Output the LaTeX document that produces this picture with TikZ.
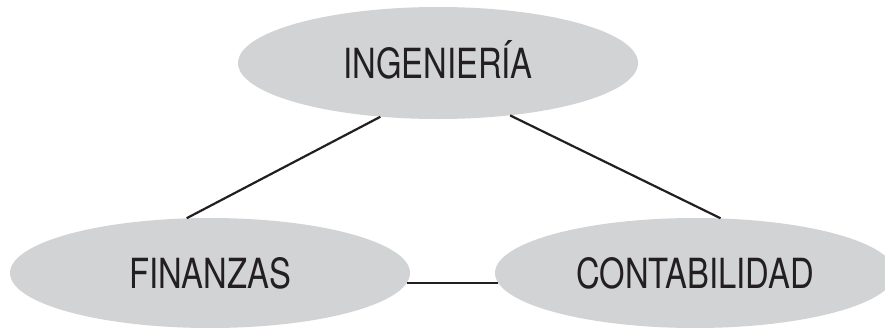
\documentclass[tikz,border=0pt]{standalone}
\usepackage{fontspec}
\setmainfont{TeX Gyre Heros}[FakeStretch=0.79]
\usetikzlibrary{shapes.geometric}
\definecolor{ovalgray}{HTML}{D1D3D4}
\definecolor{inkblack}{HTML}{231F20}
\begin{document}
\begin{tikzpicture}[x=1pt,y={(0pt,-1pt)},
  oval/.style={ellipse, fill=ovalgray, draw=none, inner sep=0pt,
    minimum width=400pt, minimum height=110pt,
    text=inkblack, font=\fontsize{41.5}{48}\selectfont,
    text height=30pt, text depth=0pt},
  link/.style={draw=inkblack, line width=2.2pt}]
\useasboundingbox (0,0) rectangle (885,327);
\clip (0,0) rectangle (885,327);
\node[oval, minimum height=112pt] (ing) at (438,63) {INGENIERÍA};
\node[oval] (fin) at (210,273) {FINANZAS};
\node[oval] (con) at (695,273) {CONTABILIDAD};
\draw[link] (ing.223) -- (fin.113);
\draw[link] (ing.-36) -- (con.65);
\draw[link] (fin.-3) -- (con.183);
\end{tikzpicture}
\end{document}
